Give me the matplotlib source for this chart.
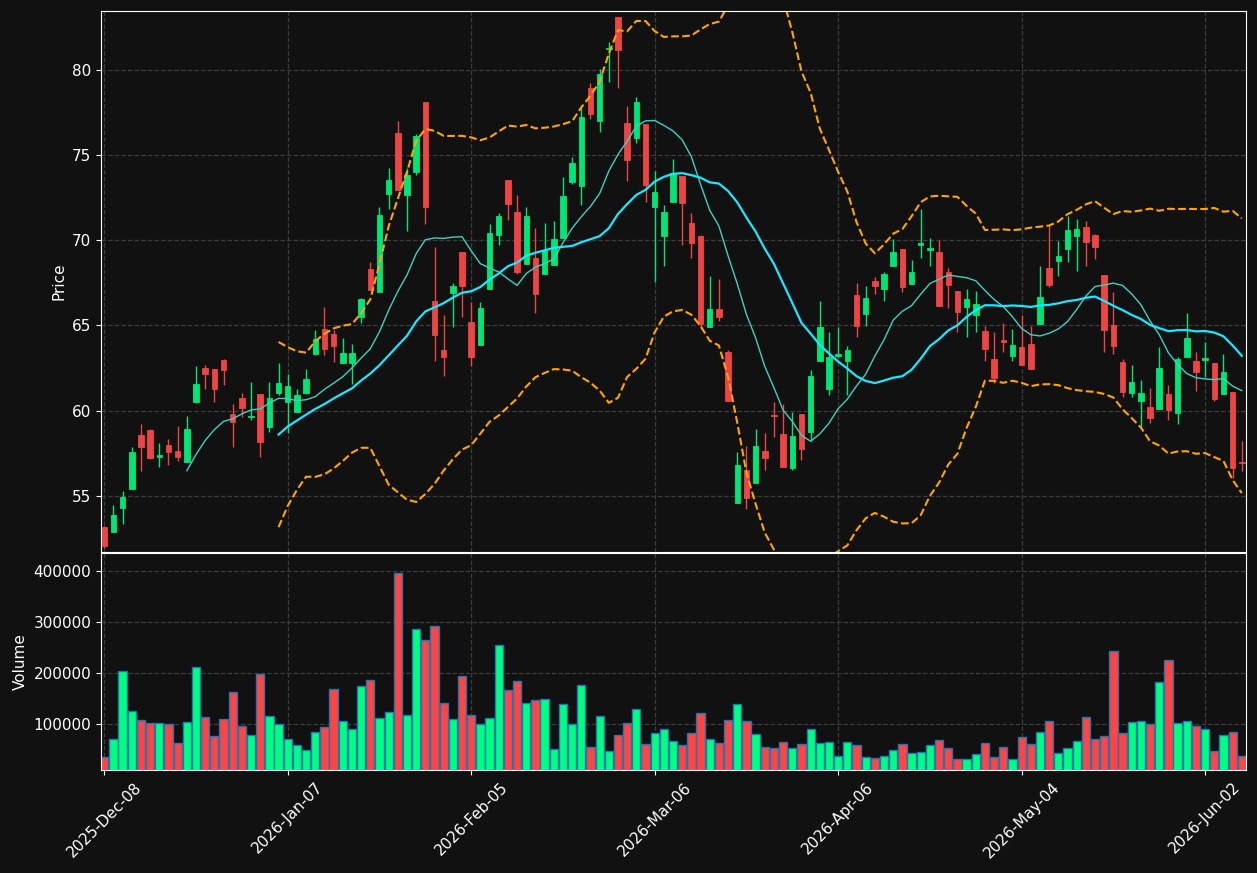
import matplotlib
matplotlib.use('Agg')
import matplotlib.pyplot as plt
import numpy as np
import pandas as pd

# OHLC (one entry per trading day)
opens = [53.14, 52.89, 54.27, 55.38, 58.57, 58.87, 57.30, 57.99, 57.63, 57.01,
         60.50, 62.50, 62.44, 62.96, 59.79, 60.75, 59.60, 60.98, 59.06, 61.06,
         60.48, 59.93, 61.06, 63.34, 64.78, 64.49, 62.82, 62.82, 65.47, 68.29,
         66.94, 72.70, 76.30, 72.64, 73.98, 78.12, 66.41, 63.55, 66.91, 69.28,
         65.18, 63.86, 67.14, 70.30, 73.56, 71.66, 68.63, 68.98, 68.00, 68.55,
         70.13, 73.44, 73.16, 78.93, 77.01, 81.20, 83.09, 76.89, 75.99, 76.82,
         71.95, 70.24, 72.22, 73.79, 71.03, 70.22, 64.91, 65.95, 63.42, 54.56,
         56.51, 55.73, 57.63, 59.75, 58.64, 56.61, 59.81, 58.74, 62.88, 61.25,
         63.20, 62.92, 66.77, 65.68, 67.58, 67.14, 68.46, 69.46, 67.42, 69.70,
         69.45, 69.28, 68.15, 67.00, 66.06, 65.60, 64.66, 63.03, 64.10, 63.19,
         63.72, 63.90, 65.10, 68.36, 68.78, 69.49, 70.24, 70.80, 70.32, 67.94,
         65.01, 62.84, 61.06, 60.58, 60.20, 60.12, 60.98, 59.83, 63.15, 62.90,
         62.95, 62.80, 61.00, 61.08, 56.95]
highs = [53.20, 54.46, 55.27, 57.84, 59.20, 58.90, 58.09, 58.32, 59.10, 59.68,
         62.61, 62.70, 62.45, 63.02, 60.37, 61.04, 61.65, 61.00, 61.65, 62.78,
         62.15, 61.25, 62.44, 64.70, 66.06, 64.70, 64.28, 63.88, 66.60, 68.71,
         71.95, 74.23, 76.99, 74.21, 76.26, 78.12, 69.61, 65.58, 67.46, 69.28,
         66.37, 66.37, 70.97, 71.57, 73.56, 72.66, 71.95, 70.70, 71.01, 71.14,
         73.73, 74.88, 77.76, 79.23, 80.06, 81.61, 83.09, 77.87, 78.39, 76.82,
         74.04, 72.08, 74.77, 73.79, 71.60, 70.28, 67.92, 67.75, 63.55, 57.59,
         57.91, 58.91, 58.68, 60.52, 60.37, 59.89, 59.81, 62.36, 66.43, 64.64,
         64.91, 63.80, 67.50, 67.31, 67.81, 68.15, 70.07, 69.46, 68.84, 71.85,
         70.13, 70.01, 68.36, 67.00, 67.14, 67.00, 64.97, 64.64, 65.12, 64.80,
         65.58, 64.97, 68.50, 70.87, 69.97, 71.41, 71.26, 71.14, 70.38, 67.94,
         66.94, 63.00, 62.67, 61.77, 61.33, 63.76, 61.50, 63.13, 65.74, 63.44,
         64.03, 62.80, 63.30, 61.08, 58.20]
lows = [51.95, 52.85, 53.37, 55.38, 56.44, 57.13, 56.67, 56.78, 57.03, 57.00,
        60.45, 61.25, 60.52, 61.52, 57.86, 59.64, 59.47, 57.28, 58.74, 60.94,
        58.68, 59.90, 61.00, 63.24, 63.24, 62.86, 62.80, 61.56, 65.16, 67.08,
        66.94, 71.83, 72.93, 70.55, 73.85, 70.97, 62.92, 62.02, 64.91, 65.47,
        62.61, 63.86, 67.14, 69.72, 71.20, 68.00, 68.63, 65.74, 68.00, 68.55,
        70.13, 73.29, 72.08, 77.09, 76.32, 79.27, 78.91, 73.48, 75.71, 72.22,
        67.52, 68.46, 72.22, 69.72, 68.98, 64.80, 64.91, 65.26, 60.58, 54.56,
        54.25, 55.73, 56.50, 58.43, 56.67, 56.50, 57.07, 58.22, 62.88, 60.94,
        63.13, 60.94, 64.34, 64.97, 66.85, 66.43, 68.46, 66.94, 67.42, 68.94,
        68.50, 66.14, 66.02, 64.59, 64.34, 64.64, 62.92, 61.61, 63.44, 62.88,
        62.69, 62.46, 65.10, 67.25, 67.88, 68.71, 68.21, 68.50, 68.92, 63.42,
        63.34, 60.79, 60.79, 59.06, 59.26, 60.12, 59.43, 59.20, 63.15, 61.12,
        61.98, 60.58, 61.00, 56.02, 56.48]
closes = [52.05, 53.89, 54.94, 57.57, 57.84, 57.24, 57.36, 57.59, 57.28, 58.93,
          61.56, 62.15, 61.29, 62.40, 59.35, 60.18, 59.66, 58.18, 60.75, 61.63,
          61.44, 60.92, 61.86, 64.22, 63.63, 63.80, 63.40, 63.40, 66.52, 67.08,
          71.45, 73.56, 72.93, 73.83, 76.13, 71.95, 64.45, 63.13, 67.29, 67.31,
          63.15, 66.02, 70.45, 71.43, 72.12, 68.11, 71.43, 66.85, 69.40, 70.05,
          72.62, 74.54, 77.24, 77.43, 79.75, 81.26, 81.17, 74.69, 78.12, 73.21,
          72.83, 71.68, 73.96, 72.18, 69.84, 65.08, 65.95, 65.49, 60.58, 56.82,
          54.85, 57.93, 57.19, 59.68, 56.67, 58.51, 57.72, 62.02, 64.91, 63.13,
          63.30, 63.55, 64.97, 66.60, 67.31, 68.04, 69.28, 67.25, 68.15, 69.85,
          69.55, 66.14, 67.37, 65.79, 66.54, 66.25, 63.61, 61.92, 64.04, 63.84,
          62.69, 62.46, 66.65, 67.37, 69.09, 70.57, 70.64, 69.88, 69.59, 64.74,
          63.80, 61.10, 61.67, 61.04, 59.54, 62.50, 60.06, 63.03, 64.26, 62.27,
          63.10, 60.69, 62.25, 56.65, 56.90]
volumes = [36600, 70600, 203900, 125500, 107800, 102600, 102000, 100000, 62700, 103900,
           211800, 113700, 76500, 109800, 162700, 96100, 78400, 198000, 115700, 100000,
           70600, 58800, 49000, 84300, 94100, 168600, 105900, 90200, 174500, 186300,
           111800, 123500, 396700, 117600, 286300, 264700, 292200, 141200, 109800, 194100,
           117600, 100000, 111800, 254900, 166700, 184300, 141200, 147100, 149000, 51000,
           139200, 100000, 176500, 54900, 115700, 47100, 78400, 102000, 129400, 60800,
           82400, 90200, 66700, 58800, 82400, 121600, 70600, 62700, 107800, 139200,
           105900, 80400, 54900, 52900, 64700, 52900, 60800, 90200, 62700, 64700,
           37300, 64700, 58800, 35300, 33300, 37300, 49000, 60800, 43100, 45100,
           58800, 68600, 52900, 31400, 31400, 41200, 62700, 35300, 54900, 31400,
           74500, 60800, 84300, 105900, 43100, 52900, 66700, 113700, 70600, 76500,
           243100, 82400, 103900, 105900, 100000, 182400, 225500, 102000, 105900, 96100,
           90200, 47100, 78400, 84300, 37300]
tick_labels = ['2025-Dec-08', '2026-Jan-07', '2026-Feb-05', '2026-Mar-06',
               '2026-Apr-06', '2026-May-04', '2026-Jun-02']

df = pd.DataFrame({'Open': opens, 'High': highs, 'Low': lows,
                   'Close': closes, 'Volume': volumes})
x = np.arange(len(df))
up = df['Close'] >= df['Open']

# overlays
ma10 = df['Close'].rolling(10).mean()
ma20 = df['Close'].rolling(20).mean()
sd20 = df['Close'].rolling(20).std(ddof=0)
bb_up = ma20 + 2 * sd20
bb_lo = ma20 - 2 * sd20

bg = '#111111'
c_up, c_dn = '#00e676', '#ef4444'
v_up, v_dn = '#00ff7f', '#ff4444'

fig = plt.figure(figsize=(12.57, 8.73), dpi=100, facecolor=bg)
ax = fig.add_axes([0.0804, 0.3677, 0.9108, 0.6197])
axv = fig.add_axes([0.0804, 0.1180, 0.9108, 0.2486], sharex=ax)

for a in (ax, axv):
    a.set_facecolor(bg)
    for s in a.spines.values():
        s.set_color('white')
    a.tick_params(colors='white', labelsize=11)
    a.grid(True, color='#3c3c3c', linestyle='--', linewidth=0.9)
    a.set_axisbelow(True)

# candles
colors = np.where(up, c_up, c_dn)
ax.vlines(x, df['Low'], df['High'], colors=colors, linewidth=1.0)
body_lo = np.minimum(df['Open'], df['Close'])
body_h = np.maximum((df['Close'] - df['Open']).abs(), 0.08)
ax.bar(x, body_h, bottom=body_lo, width=0.6, color=colors, edgecolor=colors, linewidth=0.6)

ax.plot(x, ma10, color='#3fd1c0', linewidth=1.0)
ax.plot(x, ma20, color='#19e8ff', linewidth=1.6)
ax.plot(x, bb_up, color='#ffa500', linewidth=1.5, linestyle='--')
ax.plot(x, bb_lo, color='#ffa500', linewidth=1.5, linestyle='--')

ax.set_ylim(51.7, 83.45)
ax.set_yticks([55, 60, 65, 70, 75, 80])
ax.set_ylabel('Price', color='white', fontsize=11)
plt.setp(ax.get_xticklabels(), visible=False)

# volume
vcolors = np.where(up, v_up, v_dn)
axv.bar(x, df['Volume'], width=0.9, color=vcolors, edgecolor='#1f77b4', linewidth=1.0)
axv.set_ylim(10400, 435300)
axv.set_yticks([100000, 200000, 300000, 400000])
axv.ticklabel_format(style='plain', axis='y')
axv.set_ylabel('Volume', color='white', fontsize=11)

axv.set_xlim(-0.35, len(df) - 0.55)
axv.set_xticks(np.arange(0, len(df), 20))
axv.set_xticklabels(tick_labels, rotation=45)

fig.savefig('out.png', facecolor=bg)
